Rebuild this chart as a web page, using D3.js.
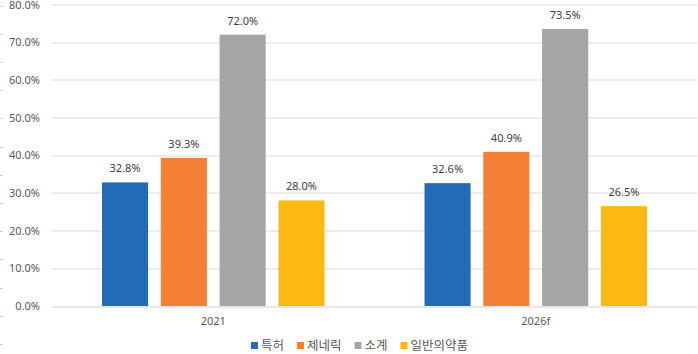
<!DOCTYPE html>
<html>
<head>
<meta charset="utf-8">
<script src="https://cdn.jsdelivr.net/npm/d3@7"></script>
<style>
  body { margin: 0; background: #fff; }
  svg { display: block; font-family: "Noto Sans CJK KR", "Noto Sans", sans-serif; }
</style>
</head>
<body>
<svg id="chart"></svg>
<script>
const categories = ["2021", "2026f"];
const seriesNames = ["특허", "제네릭", "소계", "일반의약품"];
const seriesColors = ["#236BB8", "#F38034", "#A5A5A5", "#FDB913"];
const values2021 = [32.8, 39.3, 72.0, 28.0];
const values2026 = [32.6, 40.9, 73.5, 26.5];
const yTicks = [0, 10, 20, 30, 40, 50, 60, 70, 80];

const width = 698, height = 354;
const margin = {top: 4.5, right: 1, bottom: 48, left: 52};
const innerW = width - margin.left - margin.right;
const innerH = height - margin.top - margin.bottom;

const data = categories.map((c, i) => ({
    cat: c,
    vals: seriesNames.map((s, j) => ({s, v: [values2021, values2026][i][j]}))
}));

const svg = d3.select("#chart").attr("width", width).attr("height", height);

// faint tick marks along the left edge
const edge = d3.scaleLinear().domain([0, 12]).range([5.5, 344]);
svg.append("g").selectAll("line")
    .data(d3.range(13))
    .join("line")
    .attr("x1", 0).attr("x2", 3)
    .attr("y1", d => Math.round(edge(d)) + 0.5)
    .attr("y2", d => Math.round(edge(d)) + 0.5)
    .attr("stroke", "#d0d0d0");

const g = svg.append("g").attr("transform", `translate(${margin.left},${margin.top})`);

const y = d3.scaleLinear().domain([0, 80]).range([innerH, 0]);
const x0 = d3.scaleBand().domain(categories).range([0, innerW]);
const x1 = d3.scaleBand().domain(seriesNames)
    .range([50, x0.bandwidth() - 50])
    .paddingInner(0.216);
const color = d3.scaleOrdinal().domain(seriesNames).range(seriesColors);

// grid
g.append("g").selectAll("line")
    .data(yTicks)
    .join("line")
    .attr("x1", 0).attr("x2", innerW)
    .attr("y1", d => Math.round(y(d)) + 0.5)
    .attr("y2", d => Math.round(y(d)) + 0.5)
    .attr("stroke", d => d === 0 ? "#d0d0d0" : "#d9d9d9");

// y axis labels
const yAxis = g.append("g")
    .call(d3.axisLeft(y).tickValues(yTicks).tickSize(0).tickPadding(12)
        .tickFormat(d => d.toFixed(1) + "%"));
yAxis.select(".domain").remove();
yAxis.selectAll("text").attr("fill", "#595959").style("font-size", "11px")
    .style("font-family", "'Noto Sans', sans-serif");

// x axis labels
const xAxis = g.append("g")
    .attr("transform", `translate(0,${innerH})`)
    .call(d3.axisBottom(x0).tickSize(0).tickPadding(11));
xAxis.select(".domain").remove();
xAxis.selectAll("text").attr("fill", "#595959").style("font-size", "11px")
    .style("font-family", "'Noto Sans', sans-serif");

// bars
const groups = g.selectAll(".grp")
    .data(data)
    .join("g")
    .attr("class", "grp")
    .attr("transform", d => `translate(${x0(d.cat)},0)`);

groups.selectAll("rect")
    .data(d => d.vals)
    .join("rect")
    .attr("x", d => x1(d.s))
    .attr("width", x1.bandwidth())
    .attr("y", d => y(d.v))
    .attr("height", d => innerH - y(d.v))
    .attr("fill", d => color(d.s));

groups.selectAll("text")
    .data(d => d.vals)
    .join("text")
    .attr("x", d => x1(d.s) + x1.bandwidth() / 2)
    .attr("y", d => y(d.v) - 10)
    .attr("text-anchor", "middle")
    .attr("fill", "#404040")
    .style("font-size", "11px")
    .style("font-family", "'Noto Sans', sans-serif")
    .text(d => d.v.toFixed(1) + "%");

// legend
const legend = svg.append("g").attr("transform", `translate(0,${height - 4})`);
const items = legend.selectAll("g")
    .data(seriesNames)
    .join("g");
items.append("rect")
    .attr("y", -8).attr("width", 7).attr("height", 7)
    .attr("fill", d => color(d));
items.append("text")
    .attr("x", 10).attr("y", 0)
    .attr("fill", "#595959")
    .style("font-size", "12.5px")
    .text(d => d);

let cx = 0;
const pos = [];
items.each(function () {
    pos.push(cx);
    cx += this.getBBox().width + 13;
});
const total = cx - 13;
const startX = 359.5 - total / 2;
items.attr("transform", (d, i) => `translate(${startX + pos[i]},0)`);
</script>
</body>
</html>
